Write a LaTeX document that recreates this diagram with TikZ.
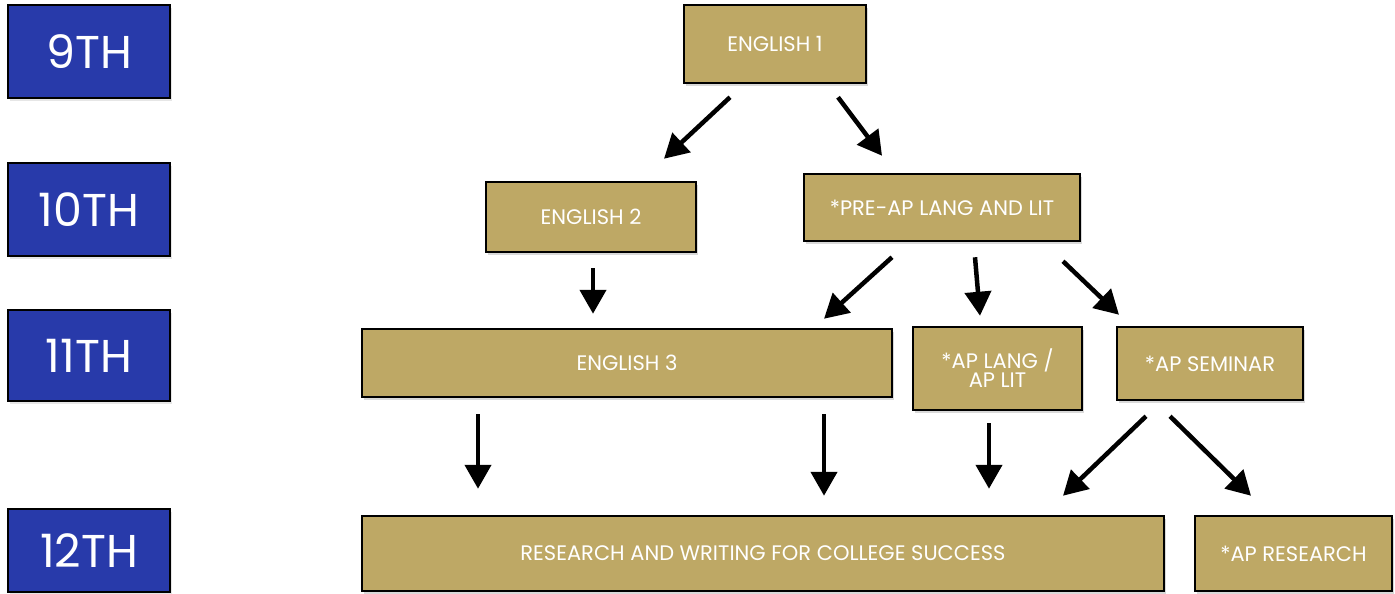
\documentclass[tikz,border=0pt]{standalone}
\usepackage{fontspec}
\setmainfont{Poppins}
\usetikzlibrary{arrows.meta,shadows}
\definecolor{gradeblue}{RGB}{40,58,170}
\definecolor{coursegold}{RGB}{190,168,101}
\tikzset{
    grade/.style={draw=black,line width=2.5pt,fill=gradeblue,text=white,font=\fontsize{46}{50}\selectfont,
        minimum width=162pt,drop shadow={opacity=0.2,shadow xshift=2pt,shadow yshift=-3pt}},
    course/.style={draw=black,line width=2.5pt,fill=coursegold,text=white,font=\fontsize{21}{18}\selectfont,
        align=center,drop shadow={opacity=0.3,shadow xshift=2pt,shadow yshift=-3pt}},
    arr/.style={line width=4.5pt,-{Triangle[length=24pt,width=26pt]}}
}
\begin{document}
\begin{tikzpicture}[x=1pt,y=-1pt]
        \useasboundingbox (0,0) rectangle (1395,594);
        %% grades
        \foreach \g/\y/\h in {9/51.5/93,10/209.5/93,11/355.5/91,12/550.5/83}
            \node[grade,minimum height=\h pt] (g\g) at (89,\y) {\g TH};
        %% courses
        \node[course,minimum width=182pt,minimum height=78pt] (e1) at (775,44) {ENGLISH 1};
        \node[course,minimum width=210pt,minimum height=70pt] (e2) at (591,217) {ENGLISH 2};
        \node[course,minimum width=276pt,minimum height=67pt] (pre) at (942,207.5) {*PRE-AP LANG AND LIT};
        \node[course,minimum width=530pt,minimum height=68pt] (e3) at (627,363) {ENGLISH 3};
        \node[course,minimum width=169pt,minimum height=83pt] (lang) at (997.5,368.5) {*AP LANG /\\ AP LIT};
        \node[course,minimum width=186pt,minimum height=73pt] (sem) at (1210,363.5) {*AP SEMINAR};
        \node[course,minimum width=802pt,minimum height=75pt] (rw) at (763,553.5) {RESEARCH AND WRITING FOR COLLEGE SUCCESS};
        \node[course,minimum width=197pt,minimum height=75pt] (res) at (1293.5,553.5) {*AP RESEARCH};
        %% arrows
        \foreach \a/\ax/\ay/\b/\bx/\by in {e1/-45/-13/e2/73/22, e1/63/-13/pre/-60/17,
                e2/2/-15/e3/-34/14, pre/-50/-15/e3/197/9, pre/33/-15/lang/-17.5/10, pre/121/-19/sem/-91/11,
                e3/-149/-16/rw/-285/26, e3/197/-16/rw/61/19, lang/-8.5/-12/rw/226/26,
                sem/-64/-15/rw/300/19, sem/-40/-15/res/-42.5/19}
            \draw[arr] ([xshift=\ax pt,yshift=\ay pt]\a.south) -- ([xshift=\bx pt,yshift=\by pt]\b.north);
\end{tikzpicture}
\end{document}
